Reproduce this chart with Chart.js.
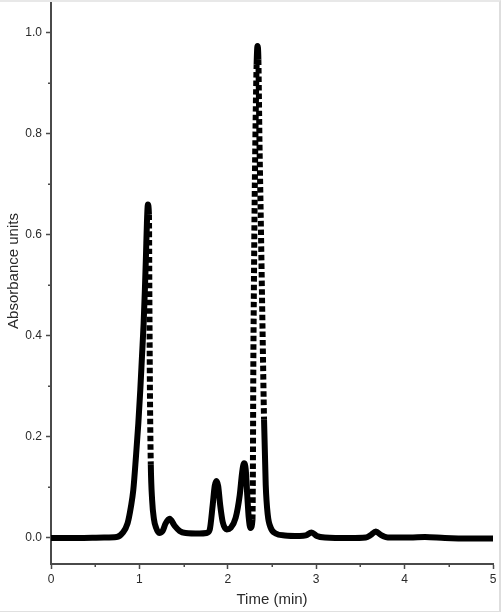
<!DOCTYPE html>
<html>
<head>
<meta charset="utf-8">
<script src="https://cdn.jsdelivr.net/npm/chart.js@4.4.1/dist/chart.umd.min.js"></script>
<style>
  html, body { margin: 0; padding: 0; background: #ffffff; }
  #wrap { position: relative; width: 501px; height: 612px; }
  #frame { position: absolute; left: 0; top: 0; width: 501px; height: 612px; box-sizing: border-box;
           border-top: 2px solid #e8e8e8; border-right: 2px solid #dedede; border-bottom: 1px solid #e0e0e0;
           pointer-events: none; }
</style>
</head>
<body>
<div id="wrap">
  <canvas id="c" width="501" height="612"></canvas>
  <div id="frame"></div>
</div>
<script>
// Retention time (min)
const times = [0.000, 0.300, 0.600, 0.742, 0.810, 0.866, 0.904, 0.931, 0.961, 0.988,
  1.010, 1.029, 1.048, 1.062, 1.074, 1.085, 1.096, 1.108, 1.113, 1.120,
  1.129, 1.144, 1.164, 1.189, 1.223, 1.263, 1.297, 1.342, 1.399, 1.455,
  1.523, 1.682, 1.761, 1.795, 1.829, 1.852, 1.871, 1.891, 1.914, 1.942,
  1.988, 2.033, 2.089, 2.135, 2.163, 2.184, 2.203, 2.220, 2.237, 2.257,
  2.279, 2.284, 2.288, 2.295, 2.304, 2.315, 2.326, 2.336, 2.346, 2.358,
  2.375, 2.393, 2.410, 2.429, 2.452, 2.486, 2.542, 2.644, 2.814, 2.882,
  2.947, 3.007, 3.098, 3.381, 3.562, 3.618, 3.675, 3.732, 3.811, 4.060,
  4.230, 4.456, 4.740, 5.000];
// Absorbance units
const absorbance = [0.000, 0.000, 0.001, 0.002, 0.010, 0.029, 0.062, 0.095, 0.161, 0.227,
  0.293, 0.359, 0.425, 0.491, 0.557, 0.623, 0.660, 0.640, 0.471, 0.273,
  0.145, 0.075, 0.038, 0.020, 0.010, 0.014, 0.029, 0.038, 0.024, 0.014,
  0.010, 0.009, 0.010, 0.016, 0.065, 0.103, 0.113, 0.103, 0.065, 0.032,
  0.017, 0.020, 0.040, 0.085, 0.131, 0.148, 0.135, 0.085, 0.040, 0.020,
  0.036, 0.135, 0.313, 0.491, 0.669, 0.828, 0.937, 0.974, 0.947, 0.788,
  0.610, 0.412, 0.234, 0.105, 0.046, 0.020, 0.009, 0.005, 0.004, 0.005,
  0.011, 0.004, 0.001, 0.000, 0.001, 0.006, 0.013, 0.006, 0.001, 0.001,
  0.002, 0.000, -0.001, -0.001];

const xTickValues = [0, 1, 2, 3, 4, 5];
const yTickValues = [0.0, 0.2, 0.4, 0.6, 0.8, 1.0];
const xMinorTicks = [0.5, 1.5, 2.5, 3.5, 4.5];
const yMinorTicks = [0.1, 0.3, 0.5, 0.7, 0.9];

const xTitle = 'Time (min)';
const yTitle = 'Absorbance units';

const AXIS_COLOR = '#4a4a4a';
const TEXT_COLOR = '#2a2a2a';
const FONT_FAMILY = 'Arial, "Liberation Sans", Helvetica, sans-serif';

const points = times.map((t, i) => ({ x: t, y: absorbance[i] }));

const extrasPlugin = {
  id: 'extras',
  afterDraw(chart) {
    const ctx = chart.ctx;
    const xs = chart.scales.x, ys = chart.scales.y;
    const area = chart.chartArea;
    ctx.save();
    ctx.strokeStyle = AXIS_COLOR;
    ctx.lineWidth = 1.5;
    ctx.beginPath();
    yMinorTicks.forEach(v => {
      const py = Math.round(ys.getPixelForValue(v)) + 0.25;
      ctx.moveTo(area.left - 3, py);
      ctx.lineTo(area.left, py);
    });
    xMinorTicks.forEach(v => {
      const px = Math.round(xs.getPixelForValue(v)) + 0.25;
      ctx.moveTo(px, area.bottom);
      ctx.lineTo(px, area.bottom + 3);
    });
    ctx.stroke();
    // y axis title
    ctx.fillStyle = TEXT_COLOR;
    ctx.font = '15px ' + FONT_FAMILY;
    ctx.textAlign = 'center';
    ctx.textBaseline = 'middle';
    ctx.translate(14, (area.top + area.bottom) / 2 - 11);
    ctx.rotate(-Math.PI / 2);
    ctx.fillText(yTitle, 0, 0);
    ctx.restore();
  }
};

new Chart(document.getElementById('c'), {
  type: 'line',
  data: {
    datasets: [{
      data: points,
      borderColor: '#000000',
      backgroundColor: '#000000',
      borderWidth: 6,
      borderJoinStyle: 'round',
      borderCapStyle: 'butt',
      pointRadius: 0,
      pointHoverRadius: 0,
      fill: false,
      cubicInterpolationMode: 'monotone',
      segment: {
        borderDash: c => {
          const dx = Math.abs(c.p1.x - c.p0.x);
          const dy = Math.abs(c.p1.y - c.p0.y);
          return (dy > 20 && dy > 40 * dx) ? [5.5, 3] : undefined;
        }
      }
    }]
  },
  options: {
    responsive: false,
    animation: false,
    devicePixelRatio: 1,
    layout: { padding: { left: 0, right: 8, top: 0, bottom: 0 } },
    plugins: { legend: { display: false }, tooltip: { enabled: false } },
    scales: {
      x: {
        type: 'linear',
        position: 'bottom',
        min: 0,
        max: 5,
        afterBuildTicks: s => { s.ticks = xTickValues.map(v => ({ value: v })); },
        afterFit: s => { s.height = 48; s.paddingLeft = 0; s.paddingRight = 0; },
        grid: { drawOnChartArea: false, drawTicks: true, tickLength: 5, tickColor: AXIS_COLOR, tickWidth: 1.5 },
        border: { display: true, color: AXIS_COLOR, width: 2 },
        ticks: {
          color: TEXT_COLOR,
          font: { family: FONT_FAMILY, size: 12 },
          padding: 3,
          maxRotation: 0,
          callback: v => String(Math.round(v))
        },
        title: {
          display: true,
          text: xTitle,
          color: TEXT_COLOR,
          font: { family: FONT_FAMILY, size: 15 },
          padding: { top: 0, bottom: 3 }
        }
      },
      y: {
        type: 'linear',
        position: 'left',
        min: -0.0515,
        max: 1.065,
        afterBuildTicks: s => { s.ticks = yTickValues.map(v => ({ value: v })); },
        afterFit: s => { s.width = 51; s.paddingTop = 0; s.paddingBottom = 0; },
        grid: { drawOnChartArea: false, drawTicks: true, tickLength: 5, tickColor: AXIS_COLOR, tickWidth: 1.5 },
        border: { display: true, color: AXIS_COLOR, width: 2 },
        ticks: {
          color: TEXT_COLOR,
          font: { family: FONT_FAMILY, size: 12 },
          padding: 4,
          callback: v => Number(v).toFixed(1)
        },
        title: { display: false }
      }
    }
  },
  plugins: [extrasPlugin]
});
</script>
</body>
</html>
